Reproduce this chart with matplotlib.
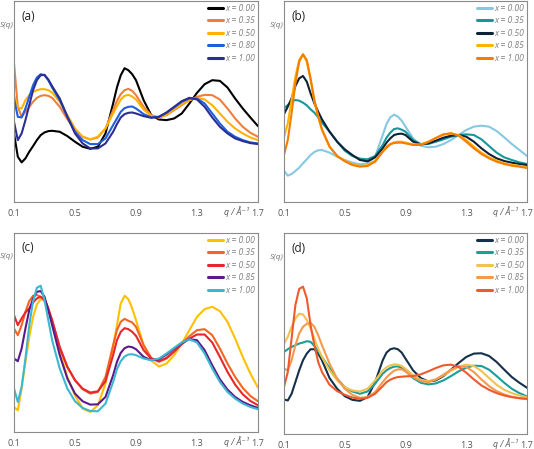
import matplotlib
matplotlib.use("Agg")
import matplotlib.pyplot as plt

plt.rcParams['font.family'] = ['Open Sans', 'DejaVu Sans']

# q grid (Å^-1)
q = [0.10, 0.125, 0.15, 0.175, 0.20, 0.225, 0.25, 0.275, 0.30, 0.325, 0.35,
     0.40, 0.45, 0.50, 0.55, 0.60, 0.65, 0.70, 0.75, 0.775, 0.80, 0.825, 0.85,
     0.875, 0.90, 0.95, 1.00, 1.05, 1.10, 1.15, 1.20, 1.25, 1.30, 1.35, 1.40,
     1.45, 1.50, 1.55, 1.60, 1.65, 1.70]

xticks = [0.1, 0.5, 0.9, 1.3, 1.7]
xtick_labels = ["0.1", "0.5", "0.9", "1.3", "1.7"]

# ---- panel (a) S(q), arbitrary units
a_labels = ["x = 0.00", "x = 0.35", "x = 0.50", "x = 0.80", "x = 1.00"]
a_colors = ["#000000", "#F07F3C", "#FFB300", "#1F5FDB", "#2B2F94"]
a_000 = [206, 136, 119, 131, 151, 168, 186, 201, 209, 213, 214, 211, 198, 181, 166, 160, 166, 206, 296, 344, 381, 402, 396, 384, 366, 306, 261, 248, 246, 251, 266, 296, 328, 354, 366, 364, 344, 311, 281, 254, 228]
a_035 = [416, 286, 256, 271, 286, 301, 313, 319, 321, 319, 313, 286, 249, 216, 196, 188, 194, 221, 276, 304, 324, 336, 340, 334, 321, 286, 261, 254, 261, 276, 291, 306, 316, 322, 321, 308, 281, 251, 226, 208, 196]
a_050 = [321, 284, 281, 306, 321, 331, 336, 339, 339, 336, 329, 301, 261, 221, 196, 188, 196, 221, 266, 288, 308, 319, 322, 317, 308, 278, 258, 254, 263, 279, 294, 306, 313, 308, 291, 266, 241, 221, 206, 194, 186]
a_080 = [311, 256, 254, 281, 316, 351, 374, 384, 381, 366, 344, 306, 256, 211, 186, 174, 174, 191, 231, 251, 271, 282, 286, 287, 281, 264, 254, 256, 268, 284, 301, 311, 311, 296, 266, 236, 211, 196, 186, 179, 176]
a_100 = [241, 186, 206, 246, 291, 336, 366, 381, 382, 368, 348, 311, 256, 206, 176, 161, 161, 176, 211, 234, 254, 264, 268, 269, 266, 258, 253, 256, 269, 286, 303, 313, 308, 286, 254, 226, 206, 191, 183, 177, 174]

# ---- panel (b)
b_labels = ["x = 0.00", "x = 0.35", "x = 0.50", "x = 0.85", "x = 1.00"]
b_colors = ["#86C8E2", "#17979A", "#0E2139", "#FFB300", "#F57C00"]
b_000 = [94, 79, 84, 93, 103, 116, 128, 141, 150, 155, 156, 148, 136, 126, 118, 113, 116, 136, 201, 234, 254, 262, 256, 244, 226, 191, 169, 164, 166, 174, 186, 201, 216, 226, 229, 226, 213, 194, 174, 156, 138]
b_035 = [281, 291, 301, 306, 304, 298, 290, 278, 268, 254, 238, 211, 181, 154, 138, 130, 128, 138, 171, 193, 208, 219, 221, 217, 211, 186, 174, 174, 181, 188, 196, 201, 203, 201, 188, 168, 148, 134, 126, 119, 114]
b_050 = [264, 286, 311, 348, 371, 378, 361, 326, 296, 271, 248, 211, 181, 158, 141, 126, 122, 134, 161, 178, 191, 201, 204, 205, 201, 181, 173, 176, 184, 193, 199, 201, 196, 181, 161, 144, 131, 123, 118, 114, 111]
b_085 = [194, 236, 306, 376, 426, 443, 421, 366, 301, 256, 216, 166, 138, 124, 114, 108, 110, 124, 151, 166, 174, 179, 181, 181, 178, 173, 173, 181, 192, 202, 206, 201, 186, 166, 148, 134, 124, 116, 111, 108, 104]
b_100 = [141, 186, 266, 356, 421, 443, 426, 371, 306, 258, 218, 166, 138, 122, 111, 106, 108, 121, 151, 163, 173, 177, 178, 178, 176, 171, 171, 180, 192, 203, 206, 199, 181, 161, 144, 131, 121, 114, 109, 106, 102]

# ---- panel (c)
c_labels = ["x = 0.00", "x = 0.35", "x = 0.50", "x = 0.85", "x = 1.00"]
c_colors = ["#FFC000", "#F26522", "#E8262B", "#5B1A8C", "#3BB8D0"]
c_000 = [75, 65, 130, 210, 285, 345, 382, 398, 398, 370, 330, 240, 165, 110, 70, 60, 80, 145, 255, 320, 385, 408, 398, 370, 335, 260, 215, 196, 205, 230, 265, 305, 345, 368, 375, 362, 330, 280, 225, 175, 133]
c_035 = [310, 290, 320, 360, 392, 408, 410, 405, 392, 365, 335, 250, 195, 155, 128, 115, 120, 165, 260, 305, 330, 339, 333, 328, 315, 260, 222, 210, 220, 240, 265, 287, 305, 308, 290, 250, 205, 165, 132, 108, 92]
c_050 = [350, 320, 340, 358, 370, 388, 400, 405, 398, 370, 335, 255, 195, 155, 130, 118, 122, 152, 230, 275, 300, 311, 308, 300, 288, 245, 220, 212, 222, 242, 263, 280, 292, 292, 268, 225, 180, 142, 113, 93, 80]
c_085 = [220, 212, 250, 310, 365, 400, 420, 422, 405, 365, 320, 230, 160, 115, 92, 82, 83, 105, 170, 210, 237, 251, 256, 254, 248, 225, 215, 218, 232, 250, 267, 278, 275, 245, 200, 158, 127, 105, 90, 80, 72]
c_100 = [130, 90, 135, 220, 320, 392, 432, 438, 395, 335, 275, 190, 130, 92, 72, 63, 62, 85, 150, 188, 212, 226, 232, 233, 230, 220, 215, 220, 235, 252, 268, 278, 268, 235, 190, 150, 120, 100, 85, 75, 68]

# ---- panel (d)
d_labels = ["x = 0.00", "x = 0.35", "x = 0.50", "x = 0.85", "x = 1.00"]
d_colors = ["#15304A", "#1A9E9A", "#F2C24F", "#F59A4A", "#EE5A2F"]
d_000 = [103, 100, 120, 155, 190, 220, 240, 253, 253, 240, 220, 167, 135, 113, 102, 99, 110, 155, 220, 243, 253, 256, 253, 243, 225, 190, 167, 157, 160, 173, 192, 212, 230, 240, 241, 233, 215, 192, 170, 153, 138]
d_035 = [245, 253, 260, 265, 270, 273, 277, 275, 263, 247, 230, 197, 165, 140, 127, 120, 127, 150, 180, 190, 197, 201, 202, 197, 188, 167, 153, 148, 151, 160, 173, 187, 198, 204, 203, 192, 173, 153, 135, 122, 112]
d_050 = [270, 290, 320, 345, 359, 357, 340, 315, 285, 255, 230, 190, 160, 140, 130, 127, 135, 160, 190, 199, 205, 208, 207, 203, 195, 175, 162, 158, 163, 175, 189, 201, 207, 203, 188, 167, 147, 132, 122, 115, 110]
d_085 = [195, 190, 220, 265, 300, 320, 329, 332, 320, 295, 265, 210, 165, 135, 117, 108, 110, 125, 155, 169, 180, 189, 193, 193, 187, 170, 158, 155, 163, 177, 192, 202, 200, 185, 163, 143, 128, 118, 111, 107, 104]
d_100 = [140, 185, 285, 385, 433, 440, 405, 325, 265, 215, 185, 147, 128, 117, 109, 105, 108, 120, 143, 155, 162, 167, 170, 171, 172, 173, 178, 187, 197, 205, 207, 200, 183, 163, 145, 132, 122, 115, 110, 107, 105]

panels = [
    ("(a)", a_labels, a_colors, [a_000, a_035, a_050, a_080, a_100], 604),
    ("(b)", b_labels, b_colors, [b_000, b_035, b_050, b_085, b_100], 603),
    ("(c)", c_labels, c_colors, [c_000, c_035, c_050, c_085, c_100], 596),
    ("(d)", d_labels, d_colors, [d_000, d_035, d_050, d_085, d_100], 600),
]

W, H = 534, 449
fig = plt.figure(figsize=(W / 100, H / 100), dpi=100)

# axes boxes in pixels: left, top, right, bottom
boxes = [(14, 1, 258, 202), (284, 1, 527, 202), (14, 233, 258, 432), (284, 233, 527, 434)]

for (tag, labels, colors, series, ytop), (l, t, r, b) in zip(panels, boxes):
    ax = fig.add_axes([l / W, 1 - b / H, (r - l) / W, (b - t) / H])
    for ys, lab, col in zip(series, labels, colors):
        ax.plot(q, ys, color=col, lw=1.5, label=lab,
                solid_capstyle='round', solid_joinstyle='round')
    ax.set_xlim(0.1, 1.7)
    ax.set_ylim(0, ytop)
    ax.set_xticks(xticks)
    ax.set_xticklabels(xtick_labels)
    ax.set_yticks([])
    ax.tick_params(axis='x', length=0, pad=5, labelsize=6.5, labelcolor='#555555')
    for sp in ax.spines.values():
        sp.set_color('#8a8a8a')
        sp.set_linewidth(0.8)
    ax.text(0.03, 0.925, tag, transform=ax.transAxes, fontsize=8.5,
            color='#222222', va='center', ha='left')
    ax.text(-0.003, 0.88, "S(q)", transform=ax.transAxes, fontsize=6,
            style='italic', color='#777777', ha='right', va='center')
    ax.text(0.962, -0.048, "q / Å⁻¹", transform=ax.transAxes, fontsize=6.2,
            style='italic', color='#555555', ha='right', va='center')
    leg = ax.legend(loc='upper right', bbox_to_anchor=(1.0, 1.0), frameon=False,
                    handlelength=1.7, handletextpad=0.35,
                    labelspacing=0.42, borderaxespad=0.1, borderpad=0.2,
                    prop={'style': 'italic', 'size': 6.2})
    for txt in leg.get_texts():
        txt.set_color('#808080')
    for ln in leg.get_lines():
        ln.set_linewidth(2.2)

fig.savefig("out.png", dpi=100)
